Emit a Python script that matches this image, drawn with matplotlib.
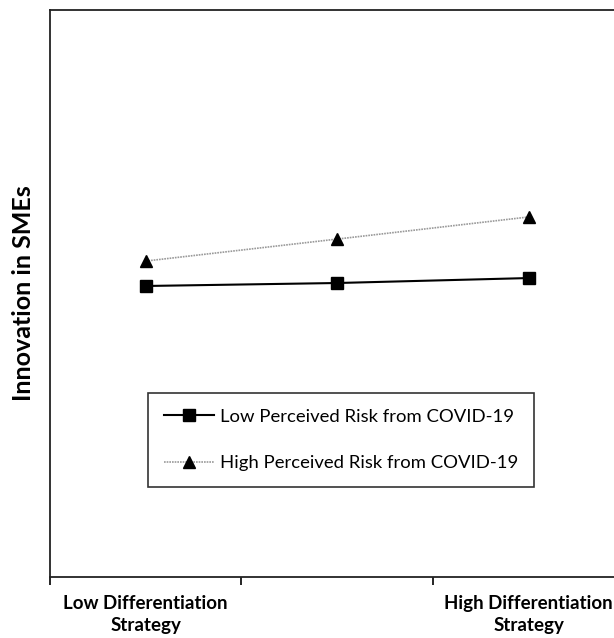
import numpy as np
import matplotlib.pyplot as plt

plt.rcParams['font.family'] = ['Lato', 'DejaVu Sans']

# data (x position in slots, y in arbitrary units)
x_pts = [0.5, 1.5, 2.5]
low_risk = [3.053, 3.074, 3.109]
high_risk = [3.229, 3.384, 3.540]
group_labels = ["Low Differentiation\nStrategy", "High Differentiation\nStrategy"]
group_pos = [0.5, 2.5]

fig = plt.figure(figsize=(6.14, 6.38), dpi=100)
ax = fig.add_axes([50/614, 1 - 577/638, (624.5 - 50)/614, (577 - 10)/638])

ax.plot(x_pts, low_risk, color='black', lw=1.5, marker='s', ms=8,
        label="Low Perceived Risk from COVID-19")
ax.plot(x_pts, high_risk, color='#999999', lw=1.2, ls=(0, (1, 0.6)), marker='^', ms=9,
        mfc='black', mec='black', label="High Perceived Risk from COVID-19")

ax.set_xlim(0, 3)
ax.set_ylim(1, 5)
ax.set_xticks([0, 1, 2, 3])
ax.set_xticklabels([])
ax.tick_params(axis='x', length=6, width=1.2, direction='out')
ax.set_yticks([])
for s in ax.spines.values():
    s.set_linewidth(1.3)
    s.set_color('#222222')

for p, lab in zip(group_pos, group_labels):
    ax.annotate(lab, xy=(p, 0), xycoords=('data', 'axes fraction'),
                xytext=(0, -13), textcoords='offset points', ha='center', va='top',
                fontsize=13.5, fontweight='bold', linespacing=1.35)

ax.set_ylabel("Innovation in SMEs", fontsize=18, fontweight='bold', labelpad=11)

leg = ax.legend(loc='upper left', bbox_to_anchor=((148 - 50)/574.5, (577 - 393)/567),
                fontsize=13.3, frameon=True, fancybox=False, edgecolor='black',
                borderaxespad=0, borderpad=0.85, labelspacing=1.65, handlelength=2.7,
                handletextpad=0.35)
leg.get_frame().set_linewidth(1.2)

plt.savefig('out.png', dpi=100)
